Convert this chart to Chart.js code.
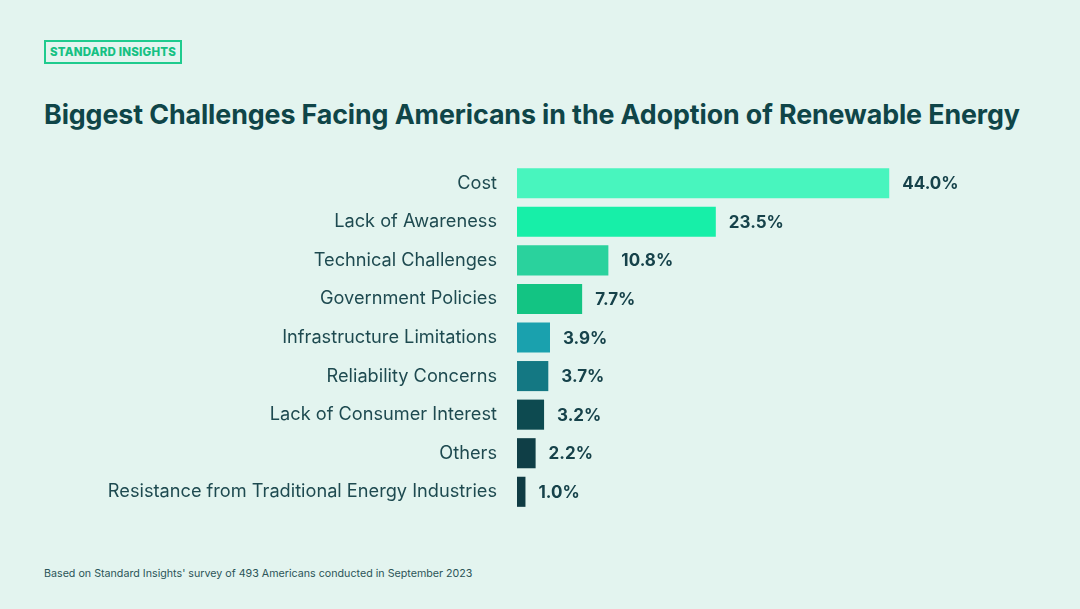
<!DOCTYPE html>
<html>
<head>
<meta charset="utf-8">
<script src="https://cdn.jsdelivr.net/npm/chart.js@4"></script>
<style>
  html,body{margin:0;padding:0;}
  body{width:1080px;height:609px;background:#E3F4EF;position:relative;overflow:hidden;font-family:Inter,Lato,sans-serif;}
  #badge{position:absolute;left:44px;top:40px;width:134px;height:20px;border:2px solid #1FCB8E;color:#15C183;font-weight:800;font-size:11.5px;line-height:20px;text-align:center;letter-spacing:0.2px;}
  #title{position:absolute;left:44px;top:98px;font-size:26.8px;font-weight:700;color:#0F4548;white-space:nowrap;letter-spacing:-0.1px;}
  #foot{position:absolute;left:44px;top:567px;font-size:10.7px;color:#2C5558;white-space:nowrap;}
  #c{position:absolute;left:0;top:141px;}
</style>
</head>
<body>
<div id="badge">STANDARD INSIGHTS</div>
<div id="title">Biggest Challenges Facing Americans in the Adoption of Renewable Energy</div>
<canvas id="c" width="1080" height="393"></canvas>
<div id="foot">Based on Standard Insights' survey of 493 Americans conducted in September 2023</div>
<script>
const categories = ["Cost","Lack of Awareness","Technical Challenges","Government Policies","Infrastructure Limitations","Reliability Concerns","Lack of Consumer Interest","Others","Resistance from Traditional Energy Industries"];
const values = [44.0,23.5,10.8,7.7,3.9,3.7,3.2,2.2,1.0];
const barColors = ["#48F5BE","#17EFA8","#2AD29D","#13C483","#1AA1AE","#147883","#0D4A50","#0F3E46","#0F3B43"];

const valueLabels = {
  id:'valueLabels',
  afterDatasetsDraw(chart){
    const ctx = chart.ctx;
    const meta = chart.getDatasetMeta(0);
    ctx.save();
    ctx.font = '700 17px Inter, Lato, sans-serif';
    ctx.fillStyle = '#16424A';
    ctx.textBaseline = 'middle';
    ctx.textAlign = 'left';
    meta.data.forEach((bar,i)=>{
      ctx.fillText(values[i].toFixed(1)+'%', bar.x+13, bar.y+1);
    });
    ctx.restore();
  }
};

new Chart(document.getElementById('c'),{
  type:'bar',
  data:{labels:categories,datasets:[{data:values,backgroundColor:barColors,borderWidth:0,barPercentage:0.78,categoryPercentage:1.0}]},
  options:{
    indexAxis:'y',
    responsive:false,
    animation:false,
    layout:{padding:{left:0,right:140,top:0,bottom:0}},
    plugins:{legend:{display:false},tooltip:{enabled:false}},
    scales:{
      x:{display:false,min:0,max:50},
      y:{
        grid:{display:false},
        border:{display:false},
        afterFit(scale){scale.width=517;},
        ticks:{color:'#1E4A50',font:{size:18.2,family:'Inter, Lato, sans-serif'},padding:12,crossAlign:'near'}
      }
    }
  },
  plugins:[valueLabels]
});
</script>
</body>
</html>
